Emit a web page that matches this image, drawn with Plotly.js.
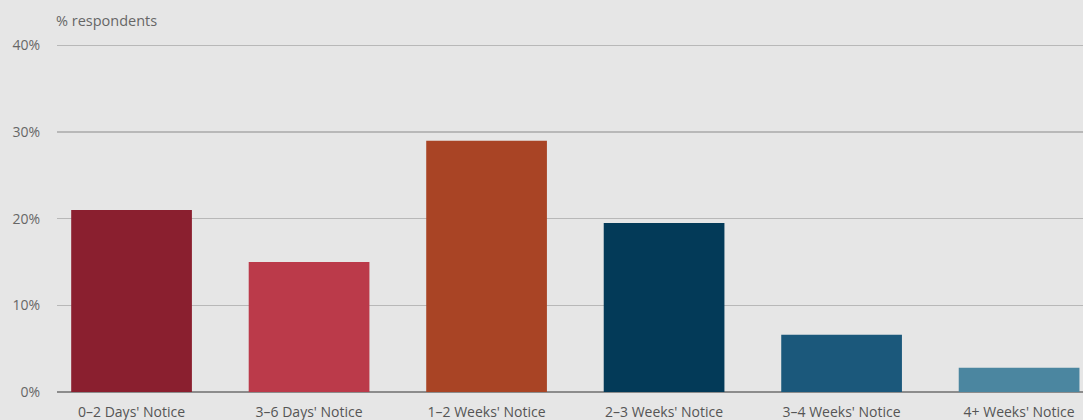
<!DOCTYPE html>
<html>
<head>
<meta charset="utf-8">
<script src="https://cdn.plot.ly/plotly-3.0.1.min.js"></script>
<style>html,body{margin:0;padding:0;background:#e6e6e6;}#chart{width:1083px;height:420px;}</style>
</head>
<body>
<div id="chart"></div>
<script>
const categories = ["0–2 Days' Notice", "3–6 Days' Notice", "1–2 Weeks' Notice", "2–3 Weeks' Notice", "3–4 Weeks' Notice", "4+ Weeks' Notice"];
const values = [21, 15, 29, 19.5, 6.6, 2.8];
const colors = ["#8a1f2f", "#bb3a4a", "#a94425", "#033a58", "#1b587b", "#4b86a0"];
const yTicks = [0, 10, 20, 30, 40];

const trace = {
  type: 'bar',
  x: categories.map((c, i) => i),
  y: values,
  width: 0.68,
  marker: {color: colors, line: {width: 0}},
  hoverinfo: 'skip'
};

const layout = {
  width: 1083, height: 420,
  margin: {l: 57, r: 0, t: 42, b: 28},
  paper_bgcolor: '#e6e6e6',
  plot_bgcolor: '#e6e6e6',
  showlegend: false,
  font: {family: 'Open Sans, sans-serif', color: '#666'},
  xaxis: {
    range: [-0.42, 5.36],
    tickmode: 'array',
    tickvals: categories.map((c, i) => i),
    ticktext: categories,
    showgrid: false,
    zeroline: false,
    showline: false,
    ticks: '',
    ticklabelstandoff: 10,
    tickfont: {size: 14, color: '#555'},
    fixedrange: true
  },
  yaxis: {
    range: [0, 40.4],
    tickmode: 'array',
    tickvals: yTicks,
    ticktext: yTicks.map(v => v + '%'),
    showgrid: true,
    gridcolor: '#b8b8b8',
    gridwidth: 1.5,
    zeroline: true,
    zerolinecolor: '#8c8c8c',
    zerolinewidth: 2,
    ticks: '',
    ticklabelstandoff: 16,
    tickfont: {size: 14, color: '#666'},
    fixedrange: true
  },
  annotations: [{
    text: '% respondents',
    xref: 'paper', yref: 'paper',
    x: -0.003, y: 1.062,
    xanchor: 'left', yanchor: 'middle',
    showarrow: false,
    font: {size: 14.5, color: '#666'}
  }]
};

Plotly.newPlot('chart', [trace], layout, {displayModeBar: false, staticPlot: true});
</script>
</body>
</html>
